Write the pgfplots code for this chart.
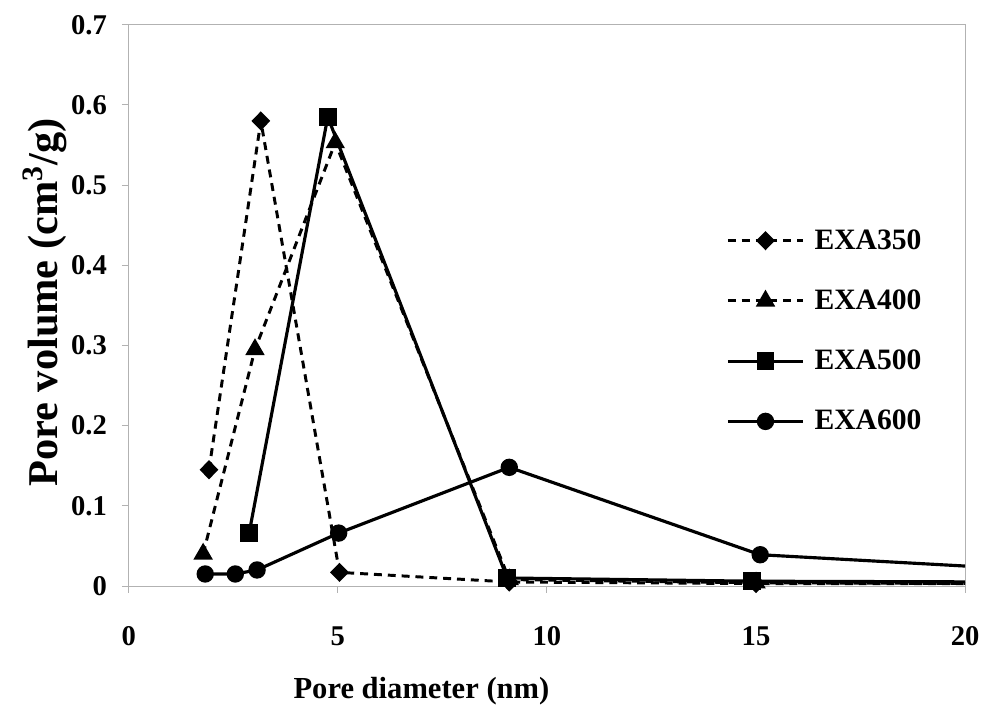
\documentclass[border=0pt]{standalone}
\usepackage{pgfplots}
\pgfplotsset{compat=1.18}
\usepackage{fontspec}
\setmainfont{Liberation Serif}
\begin{document}
\begin{tikzpicture}
\begin{axis}[
  scale only axis, width=422.5bp, height=283.5bp,
  xmin=0, xmax=20, ymin=0, ymax=0.7,
  xtick={0,5,10,15,20}, ytick={0,0.1,0.2,0.3,0.4,0.5,0.6,0.7},
  xtick pos=bottom, ytick pos=left,
  tick align=outside, major tick length=3.5bp,
  axis line style={gray!60, line width=0.5pt},
  tick style={gray!60, line width=0.5pt},
  /pgf/number format/assume math mode=true,
  ticklabel style={font=\fontsize{14.5}{16}\selectfont\bfseries},
  xticklabel style={anchor=north, yshift=-13.5bp},
  yticklabel style={anchor=east, xshift=-4bp},
  xlabel={Pore diameter (nm)},
  ylabel={Pore volume (cm\textsuperscript{3}/g)},
  xlabel style={font=\fontsize{15.5}{18}\selectfont\bfseries, at={(axis description cs:0.35,-0.187)}, anchor=center},
  ylabel style={font=\fontsize{21.5}{24}\selectfont\bfseries, at={(axis description cs:-0.1006,0.505)}, anchor=center},
  clip=true,
  legend style={at={(0.714,0.645)}, anchor=north west, draw=none, fill=none,
    font=\fontsize{15}{17}\selectfont\bfseries, row sep=14bp,
    inner sep=0pt, nodes={inner sep=2.5bp}},
  legend cell align=left,
  legend image code/.code={\draw[mark repeat=2, mark phase=2] plot coordinates {(0bp,0bp) (19bp,0bp) (38bp,0bp)};},
  /tikz/every odd column/.append style={column sep=2.5bp},
]
\addplot[black, line width=1.5pt, dash pattern=on 4bp off 3bp, mark=diamond*, mark size=3.8pt, mark options={solid, xscale=1.3}]
  coordinates {(1.92,0.145) (3.16,0.58) (5.04,0.017) (9.1,0.005) (15,0.003) (21,0.003)};
\addlegendentry{EXA350}
\addplot[black, line width=1.5pt, dash pattern=on 4bp off 3bp, mark=triangle*, mark size=4.2pt, mark options={solid}]
  coordinates {(1.78,0.04) (3.02,0.295) (4.94,0.553) (9.1,0.008) (15,0.004) (21,0.003)};
\addlegendentry{EXA400}
\addplot[black, line width=1.6pt, mark=square*, mark size=3.7pt]
  coordinates {(2.88,0.066) (4.76,0.585) (9.05,0.01) (14.9,0.006) (21,0.005)};
\addlegendentry{EXA500}
\addplot[black, line width=1.6pt, mark=*, mark size=3.6pt]
  coordinates {(1.83,0.015) (2.55,0.015) (3.07,0.02) (5.02,0.066) (9.1,0.148) (15.1,0.039) (21,0.022)};
\addlegendentry{EXA600}
\end{axis}
\path[use as bounding box] (-65bp,-57bp) rectangle (428bp,296bp);
\end{tikzpicture}
\end{document}
